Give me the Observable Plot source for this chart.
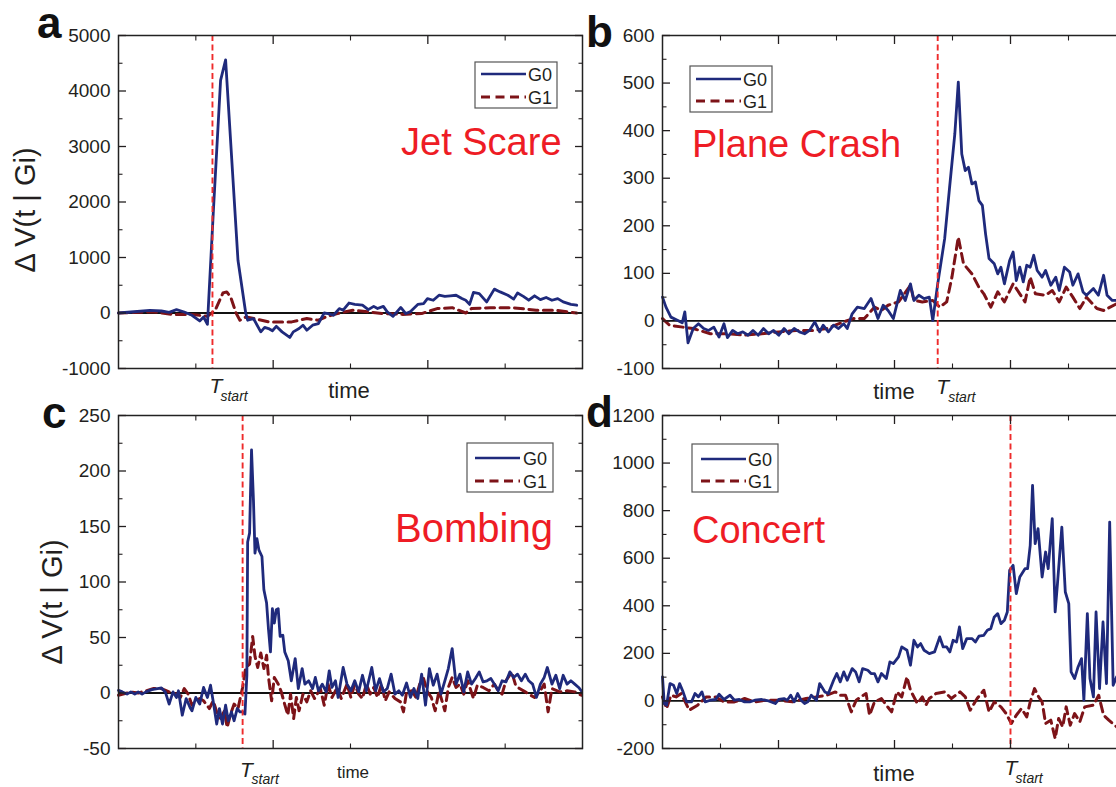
<!DOCTYPE html>
<html><head><meta charset="utf-8">
<script src="https://cdn.jsdelivr.net/npm/d3@7"></script>
<script src="https://cdn.jsdelivr.net/npm/@observablehq/plot@0.6"></script>
<style>
body{margin:0;background:#fff;}
#fig{position:relative;width:1116px;height:787px;overflow:hidden;background:#fff;}
</style></head><body><div id="fig"></div>
<script>
// ---------- data (time in arbitrary units, values ΔV) ----------
// Panel a: Jet Scare
const aT0 = [0,3.2,8.1,11.1,13.1,15,17,19,21,22,23,24.5,26.4,27.7,30.9,32.9,33.4,34.9,36.8,37.8,38.8,39.8,40.8,42.3,44.3,45.2,46.7,47.7,48.7,50.2,51.7,53.2,54.2,55.6,57.1,58.1,59.6,61.1,63.1,64.6,66,67,68.5,69.5,71,72,73,74.3,75.4,77.4,78.9,79.9,81.4,82.9,84.4,85.8,87.3,88.8,89.8,90.8,91.8,93.3,95.2,97.2,98.7,100.7,102.2,103.2,104.7,106.1,107.6,109.1,110.6,112.1,113.6,115,117,118.5];
const aG0 = [0,18,48,36,12,60,18,-42,-144,-72,-204,1790,4190,4560,950,0,-130,-100,-340,-260,-280,-320,-240,-340,-440,-340,-280,-220,-310,-220,-190,0,-10,-40,80,50,180,155,140,60,120,80,120,20,-60,20,100,-10,20,155,170,260,230,320,300,310,320,260,230,155,370,350,200,430,380,320,250,360,300,230,310,240,280,230,260,200,155,140];
const aT1 = [0,9,14,19,23,25,27,28,29,30.4,31.4,33,35,38.8,44.8,48.7,51.7,53.7,56.6,60.6,64.6,68.5,73.5,78.4,82.4,86.3,89.8,91.3,96.2,102,108,113,118.5];
const aG1 = [0,20,-25,-25,-60,50,360,380,290,0,-130,-70,-100,-160,-160,-100,-130,-70,-10,50,20,-10,-25,-10,80,95,0,80,95,95,50,50,0];
// Panel b: Plane Crash
const bT0 = [0,1.2,2.9,5.3,6.8,7.7,8.8,10.6,12.4,14.2,15.9,17.7,19.5,21.2,22.4,24.2,25.9,27.7,29.5,31.2,33,34.8,36.6,38.3,40.1,41.9,43.6,45.4,47.2,49,50.7,52.5,54.2,55.4,57.2,59,60.7,62.5,63.7,65.4,67.2,69.6,71.9,73.1,74.3,76.1,77.8,79.6,82,83.7,85.5,86.7,88.4,90.2,92,93.2,94.9,97.3,99,100.8,102,103.2,104.4,105.5,106.7,107.9,109.1,110.3,111.4,112.6,114.4,115.6,116.7,117.9,119.7,120.9,122,123.2,124.4,125.6,126.8,128,129.2,130.9,132.1,133.9,135.6,136.8,138.6,140.4,141.5,143.3,145,146.2,148.6,150.3,152.1,153.3,155.1,156.6];
const bG0 = [50,29,8,1,-4,19,-46,-16,-6,-16,-20,-13,-34,-6,-35,-20,-27,-23,-30,-20,-30,-16,-27,-20,-30,-16,-27,-16,-23,-27,-20,-2,-23,-9,-23,-9,-16,-6,-16,15,29,26,47,26,5,33,22,5,64,43,78,43,54,47,50,1,78,173,281,393,502,351,316,323,288,292,253,243,183,131,120,99,113,78,127,145,85,113,82,117,113,138,106,92,106,75,92,64,113,103,75,99,61,54,68,54,96,54,43,43];
const bT1 = [0,2.4,7,10.6,16.5,22.4,28.3,34.2,40.1,46,51.9,56.6,62.5,65.8,69.6,73.1,75.5,77.8,81.4,85.5,86.7,89.6,93.2,95.6,98,99.8,102,103.8,106.7,109.1,110.8,113.2,115.6,117.9,120.9,123.2,125,126.8,128.6,132.1,134.4,136.8,139.2,141.5,143.9,146.2,149.8,152.1,156.6];
const bG1 = [5,-9,-13,-16,-27,-27,-30,-27,-23,-20,-20,-16,-2,5,5,29,22,33,40,75,43,40,43,29,40,92,176,120,99,71,57,29,61,40,78,57,40,92,57,54,64,40,71,50,26,50,26,22,36];
// Panel c: Bombing
const cT0 = [0,1,2.2,3.2,4.2,5.1,6.1,7.1,8.6,10.1,11.1,12.1,13.1,14.1,15,15.5,16.5,17.5,18.5,19,20,21,22,23,23.8,24.6,25.4,26.1,26.9,27.7,28.4,29.2,29.9,30.7,31.4,32.1,32.7,33.2,33.4,33.9,34.4,34.9,35.3,35.8,36.3,37.1,37.6,38.3,38.8,39.3,39.8,40.3,40.8,41.3,41.8,42.5,43,43.9,44.7,45.7,46.5,47.5,48.2,49.2,50.2,50.9,51.7,52.7,53.7,54.5,55.2,56.1,56.8,58.1,59.1,60.1,61.1,62.1,63.1,64.1,65.5,66.5,67.5,68.5,69.5,70.5,71.5,72.5,73.4,74.5,75.5,76.4,77.4,78.4,79.4,80.4,81.4,82.4,83.4,84.4,85.3,86.3,87.3,88.3,89.3,90.3,91.3,92.3,93.3,94.3,95.3,96.3,97.2,98.2,99.2,100.2,101.2,102.2,103.2,104.2,105.2,106.1,107.1,108.1,109.1,110.1,110.9,112.1,113.1,114.1,115,116,117,118,119,119.7];
const cG0 = [2.4,1,-1,1,-1,1,-1,1,3,4,4.5,1,-10,1,-4,2,-20,-5,-13,-16,-4,-10,5,-4,7,-10,-28,-14,-28,-11,-25,-17,-25,-14,-17,-17,-19,16,136,144,219,174,126,139,129,123,93,81,57,37,76,63,75,76,51,52,37,29,11,31,4,22,8,11,4,14,2,8,1,20,5,11,-4,23,8,2,11,1,16,2,23,2,13,1,4,17,-1,2,-2,9,-4,4,-5,17,-11,22,7,17,-1,11,22,40,8,17,1,19,8,13,19,10,11,13,8,2,11,10,19,14,17,11,17,11,8,-4,8,14,23,8,16,4,16,8,11,8,5,2];
const cT1 = [0,1.2,3.2,5.1,7.1,9.1,11.1,13.1,15,16,17,18,19,20,21,22,23.5,24.5,25.4,26.4,27.4,28.1,28.9,29.9,30.9,32.1,32.9,33.9,34.7,35.3,36,36.8,37.6,38.3,38.8,39.6,40.3,41.3,42.1,42.8,43.8,44.5,45.3,46,46.7,47.7,48.7,49.7,50.7,52.2,53.2,54.2,55.2,56.6,57.6,59.1,60.1,61.1,62.1,63.1,64.1,65.1,66,67,68,69,70,71.5,72.9,73.7,74.5,75.9,76.9,77.9,78.9,79.9,80.9,81.9,82.9,84.4,85.3,86.3,87.3,88.3,89.3,90.3,91.8,92.8,94.3,95.8,97.2,98.2,99.2,100.2,101.7,102.7,103.7,105.2,106.6,107.6,109.1,110.1,111.1,112.1,114.1,116,118,119.7];
const cG1 = [-2,-1,1,0,2,4,4,1,-1,-4,4,-1,-11,-7,-5,-7,-14,-7,-17,-23,-16,-31,-20,-10,-14,5,23,26,51,33,23,36,22,34,14,-7,14,8,1,-8,-20,-1,-23,-4,-16,-1,-8,2,-5,4,-11,8,-4,5,-5,8,-4,8,-1,-5,8,-1,5,-4,8,-7,1,-5,-8,-17,1,2,-4,8,13,1,-4,-16,2,-16,5,14,5,8,-1,11,-5,7,5,2,8,2,-1,11,19,7,4,1,-2,-4,2,8,-17,4,1,2,1,-2];
// Panel d: Concert
const dT0 = [0,0.6,1.4,2.6,3.8,4.9,5.9,7.1,8.3,10,11.2,12.4,13.6,14.7,16.5,18.3,19.5,21.2,23.3,24.8,26.5,28.3,30.1,31.8,34.2,36.6,38.9,40.1,41.9,43,44.2,45.4,46.6,47.8,49,50.1,51.3,53.1,54.2,56,57.2,59,60.1,61.3,62.5,63.7,65.4,66.6,67.8,69,70.8,71.9,73.1,74.3,75.5,77.2,78.4,79.6,81.4,82.5,84.3,85.5,86.7,87.9,89,90.2,92,93.8,95.6,96.8,98,99.1,100.2,101.4,102.4,103.5,104.9,106.7,107.9,109.1,110.8,112,113.2,114.4,115.6,116.7,117.9,118.9,119.7,120.9,122,123.2,125,125.9,126.8,127.6,128.5,129.5,130.9,132.1,133,134.4,135.4,136.2,137.7,138.9,140.1,140.9,142.1,143.3,144.5,145.3,146.5,147.4,148.6,149.5,150.7,151.9,153.1,154.2,155.4,156.6];
const dG0 = [101,-11,-18,73,66,31,73,38,-4,-4,31,17,38,-4,3,6,28,6,24,3,6,-4,-4,3,6,0,-11,6,10,3,24,-4,31,3,-11,-4,24,3,73,38,31,87,115,80,122,87,136,122,80,136,129,115,115,80,115,94,164,157,185,227,213,150,255,227,241,213,199,206,269,227,227,206,255,248,311,220,262,262,248,272,276,297,304,353,367,325,339,374,549,570,451,521,556,556,654,906,661,724,521,626,556,766,374,493,731,458,409,122,94,143,178,3,367,94,17,374,52,332,73,752,66,101];
const dT1 = [0,1.4,2.9,4.7,6.5,9.2,12.1,15.1,18.3,21.2,24.8,28.3,31.8,35.4,40.1,44.8,49.5,53.1,56.6,59.6,61.3,63.1,65.1,66.8,68.4,70.2,71.4,73.1,75.5,77.2,79,80.8,82.5,84.3,85.5,87.9,89.6,90.8,92,94.3,97.3,99.6,102.6,104.4,106.1,108.5,110.8,112.6,114.4,116.7,118.5,120.3,122,123.8,125.6,126.8,128.3,129.7,130.9,132.1,133.9,135.4,136.6,138,139.2,140.6,142.1,143.9,145.6,148.6,150.4,152.1,153.9,156.6];
const dG1 = [17,-32,24,17,31,-39,-18,17,17,-4,-4,10,-4,3,3,-4,10,17,24,38,24,24,-46,3,17,31,-60,-4,10,-18,-46,38,17,101,45,-11,17,-18,10,31,38,10,38,17,-39,10,45,-46,-4,-25,-53,-95,-60,-32,-67,-4,52,17,-4,-95,-81,-158,-74,-109,-25,-102,-53,-88,-25,-18,24,-60,-81,-109];

// event start times
const tStart = {a: 24.3, b: 94.9, c: 32.1, d: 120};
// axis ticks
const yTicksA = [-1000,0,1000,2000,3000,4000,5000], yMinorA = [-500,500,1500,2500,3500,4500];
const yTicksB = [-100,0,100,200,300,400,500,600], yMinorB = [-50,50,150,250,350,450,550];
const yTicksC = [-50,0,50,100,150,200,250], yMinorC = [-25,25,75,125,175,225];
const yTicksD = [-200,0,200,400,600,800,1000,1200], yMinorD = [-100,100,300,500,700,900,1100];
const xMajorAC = [40,80], xMinorAC = [20,60,100];
const xMajorBD = [40,80,120], xMinorBD = [20,60,100,140];
const seriesNames = ["G0","G1"];
const titles = {a:"Jet Scare", b:"Plane Crash", c:"Bombing", d:"Concert"};
const yLabel = "Δ V(t | Gi)";

// ---------- styling ----------
const FONT = '"Liberation Sans", Arial, Helvetica, sans-serif';
const G0C = "#1f2a7c", G1C = "#7d1318", REDL = "#ee2b2b", REDT = "#ee1c25", INK = "#231f20";
const fig = document.getElementById("fig");

function panel(o) {
  const s0 = o.t0.map((t,i)=>({t, v:o.v0[i]}));
  const s1 = o.t1.map((t,i)=>({t, v:o.v1[i]}));
  const W = 464, H = 333, mt = 35, mb = 50;
  const blank = () => "";
  const chart = Plot.plot({
    width: o.ml + W + o.mr, height: mt + H + mb,
    marginLeft: o.ml, marginRight: o.mr, marginTop: mt, marginBottom: mb,
    x: {type:"linear", domain: o.xDomain},
    y: {type:"linear", domain: o.yDomain},
    style: {fontFamily: FONT, color: INK, background: "transparent", overflow: "visible"},
    marks: [
      Plot.ruleY([0], {stroke: "#111", strokeWidth: 1.8}),
      Plot.line(s1, {x:"t", y:"v", stroke:G1C, strokeWidth:3, strokeDasharray:"9,5.5"}),
      Plot.line(s0, {x:"t", y:"v", stroke:G0C, strokeWidth:2.8}),
      Plot.ruleX([o.tstart], {stroke:REDL, strokeWidth:1.9, strokeDasharray:"6,3.5"}),
      Plot.frame({stroke:"#222", strokeWidth:1.5}),
      Plot.axisY({anchor:"left", ticks:o.yMajor, tickSize:0, tickPadding:8, fontSize:19, tickFormat: d=>String(d), label:null}),
      ...["left","right"].flatMap(a=>[
        Plot.axisY({anchor:a, ticks:o.yMajor, tickSize:-8, tickFormat:blank, label:null, strokeWidth:1.3}),
        Plot.axisY({anchor:a, ticks:o.yMinor, tickSize:-4.5, tickFormat:blank, label:null, strokeWidth:1.1})]),
      ...["top","bottom"].flatMap(a=>[
        Plot.axisX({anchor:a, ticks:o.xMajor, tickSize:-8, tickFormat:blank, label:null, strokeWidth:1.3}),
        Plot.axisX({anchor:a, ticks:o.xMinor, tickSize:-4.5, tickFormat:blank, label:null, strokeWidth:1.1})]),
      Plot.text([o.tstart], {x:d=>d, frameAnchor:"bottom", dy:o.tDy, dx:o.tDx, text:()=>"T", fontStyle:"italic", fontSize:21, textAnchor:"start", lineAnchor:"bottom", fill:INK}),
      Plot.text([o.tstart], {x:d=>d, frameAnchor:"bottom", dy:o.sDy, dx:o.sDx, text:()=>"start", fontStyle:"italic", fontSize:14, textAnchor:"start", lineAnchor:"bottom", fill:INK})
    ]
  });
  chart.style.position = "absolute";
  chart.style.left = o.left + "px";
  chart.style.top = o.top + "px";
  fig.appendChild(chart);
}

panel({t0:aT0, v0:aG0, t1:aT1, v1:aG1, xDomain:[0,120], xMajor:xMajorAC, xMinor:xMinorAC, yDomain:[-1000,5000], yMajor:yTicksA, yMinor:yMinorA, tstart:tStart.a, left:0, top:0, ml:118, mr:18, tDy:24, tDx:-3, sDy:32, sDx:8});
panel({t0:bT0, v0:bG0, t1:bT1, v1:bG1, xDomain:[0,160], xMajor:xMajorBD, xMinor:xMinorBD, yDomain:[-100,600], yMajor:yTicksB, yMinor:yMinorB, tstart:tStart.b, left:600, top:0, ml:62, mr:10, tDy:25, tDx:-1.5, sDy:33, sDx:10.5});
panel({t0:cT0, v0:cG0, t1:cT1, v1:cG1, xDomain:[0,120], xMajor:xMajorAC, xMinor:xMinorAC, yDomain:[-50,250], yMajor:yTicksC, yMinor:yMinorC, tstart:tStart.c, left:0, top:380, ml:118, mr:18, tDy:28, tDx:-2.5, sDy:35, sDx:9});
panel({t0:dT0, v0:dG0, t1:dT1, v1:dG1, xDomain:[0,160], xMajor:xMajorBD, xMinor:xMinorBD, yDomain:[-200,1200], yMajor:yTicksD, yMinor:yMinorD, tstart:tStart.d, left:600, top:380, ml:62, mr:10, tDy:26, tDx:-6, sDy:34, sDx:5});

// ---------- overlay: letters, labels, titles, legends ----------
const ov = d3.create("svg").attr("width",1116).attr("height",787)
  .style("position","absolute").style("left","0px").style("top","0px")
  .style("font-family", FONT).style("pointer-events","none");

const letters = [["a",37,38],["b",586,47],["c",42,428],["d",586,427]];
letters.forEach(([t,x,y]) => ov.append("text").attr("x",x).attr("y",y).attr("font-size",44).attr("font-weight","bold").attr("fill","#111").text(t));

[[35,210],[62,602]].forEach(([x,y]) => ov.append("text").attr("transform",`translate(${x},${y}) rotate(-90)`).attr("text-anchor","middle").attr("font-size",29).attr("fill",INK).text(yLabel));

[[349,398,22],[894,399,22],[353,778,17],[894,781,22]].forEach(([x,y,s]) => ov.append("text").attr("x",x).attr("y",y).attr("text-anchor","middle").attr("font-size",s).attr("fill",INK).text("time"));

[["a",401,155,38],["b",692,157,38],["c",395,542,40],["d",692,543,38]].forEach(([k,x,y,s]) => ov.append("text").attr("x",x).attr("y",y).attr("font-size",s).attr("fill",REDT).text(titles[k]));

// legends: box x,y,w,h, row1 y, row2 y, line x1,x2, text x
const legends = [[475,62,82,46,74,97,481,526,528],[690,66,82,46,79,101,696,741,743],[467,443,86,49,458,481,475,520,523],[692,444,86,48,459,481,701,746,748]];
legends.forEach(([x,y,w,h,r1,r2,l1,l2,tx]) => {
  ov.append("rect").attr("x",x).attr("y",y).attr("width",w).attr("height",h).attr("fill","#fff").attr("stroke","#555").attr("stroke-width",1.2);
  ov.append("line").attr("x1",l1).attr("x2",l2).attr("y1",r1).attr("y2",r1).attr("stroke",G0C).attr("stroke-width",2.6);
  ov.append("line").attr("x1",l1).attr("x2",l2).attr("y1",r2).attr("y2",r2).attr("stroke",G1C).attr("stroke-width",2.8).attr("stroke-dasharray","9,5.5");
  ov.append("text").attr("x",tx).attr("y",r1+7).attr("font-size",18).attr("fill",INK).text(seriesNames[0]);
  ov.append("text").attr("x",tx).attr("y",r2+7).attr("font-size",18).attr("fill",INK).text(seriesNames[1]);
});
fig.appendChild(ov.node());
</script></body></html>
